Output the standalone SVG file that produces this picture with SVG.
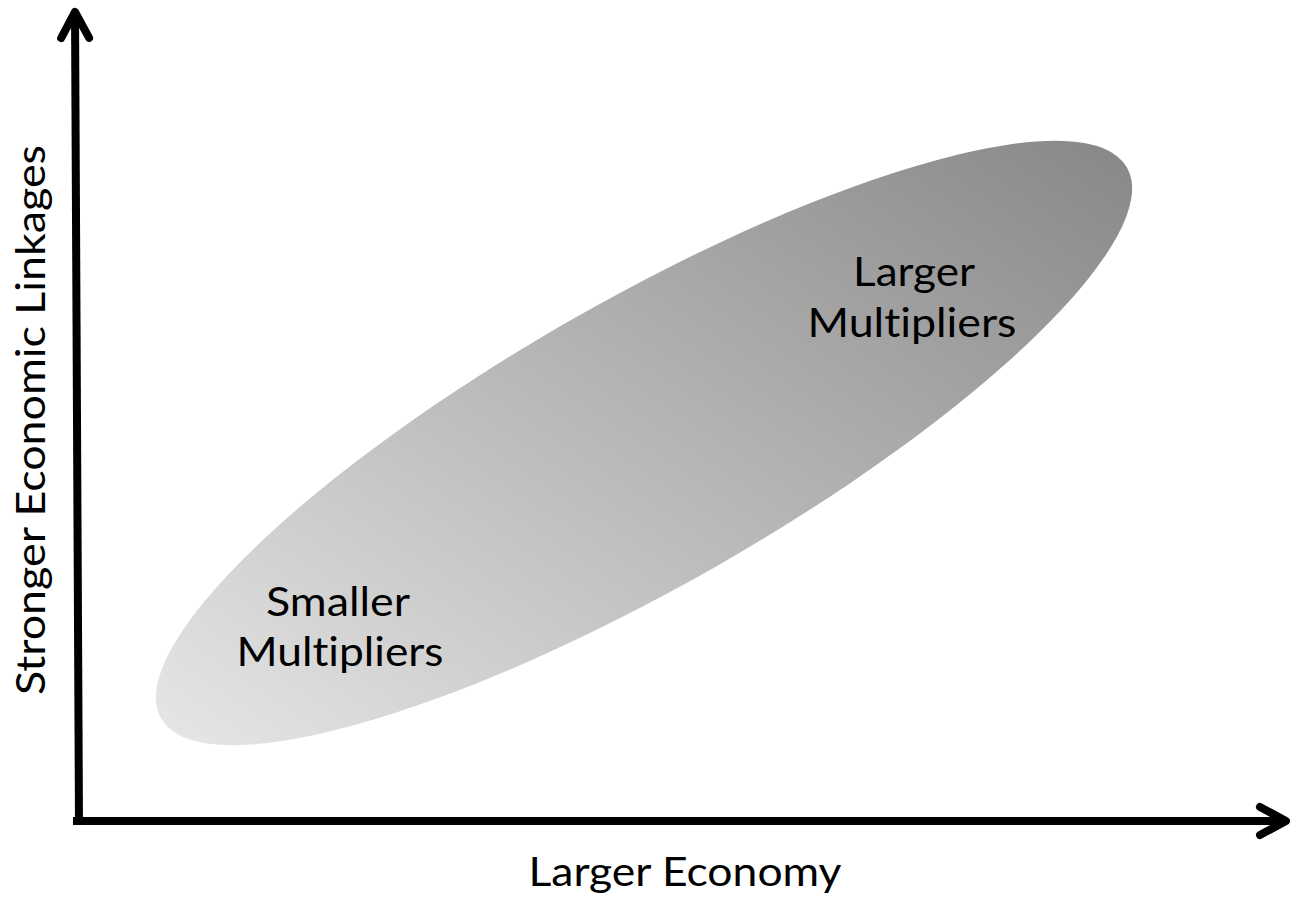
<svg xmlns="http://www.w3.org/2000/svg" width="1294" height="897" viewBox="0 0 1294 897">
  <style>
    .label { font-family: Lato, "Open Sans", "Liberation Sans", sans-serif; font-size: 41px; fill: #000000; text-anchor: middle; font-variant-ligatures: none; font-feature-settings: "liga" 0, "clig" 0; }
    .axis { stroke: #000000; stroke-width: 8; fill: none; }
  </style>
  <defs>
    <linearGradient id="zoneFill" gradientUnits="userSpaceOnUse" x1="152" y1="690" x2="1132" y2="197">
      <stop offset="0" stop-color="#e9e9e9"/>
      <stop offset="1" stop-color="#858585"/>
    </linearGradient>
    <marker id="chevron" markerUnits="userSpaceOnUse" viewBox="-34 -22 40 44" markerWidth="40" markerHeight="44" refX="0" refY="0" orient="auto">
      <path d="M -26 -14 L 0 0 L -26 14" fill="none" stroke="#000000" stroke-width="8" stroke-linecap="round" stroke-linejoin="round"/>
    </marker>
  </defs>

  <!-- multiplier zone -->
  <g id="zone">
    <ellipse cx="644" cy="443" rx="556" ry="143" transform="rotate(-29.7 644 443)" fill="url(#zoneFill)"/>
  </g>

  <!-- axes -->
  <g id="connectors">
    <line class="axis" x1="79" y1="825" x2="75" y2="12" marker-end="url(#chevron)"/>
    <line class="axis" x1="73" y1="821" x2="1286" y2="821" marker-end="url(#chevron)"/>
  </g>

  <g id="y-axis-label">
    <text class="label" transform="translate(45 420) rotate(-90)" x="0" y="0" textLength="550" lengthAdjust="spacingAndGlyphs">Stronger Economic Linkages</text>
  </g>

  <g id="x-axis-label">
    <text class="label" x="685" y="886" textLength="313" lengthAdjust="spacingAndGlyphs">Larger Economy</text>
  </g>

  <g id="smaller-multipliers">
    <text class="label" x="338" y="616" textLength="144" lengthAdjust="spacingAndGlyphs">Smaller</text>
    <text class="label" x="340" y="666" textLength="207" lengthAdjust="spacingAndGlyphs">Multipliers</text>
  </g>

  <g id="larger-multipliers">
    <text class="label" x="914" y="286" textLength="122" lengthAdjust="spacingAndGlyphs">Larger</text>
    <text class="label" x="912" y="337" textLength="209" lengthAdjust="spacingAndGlyphs">Multipliers</text>
  </g>
</svg>
